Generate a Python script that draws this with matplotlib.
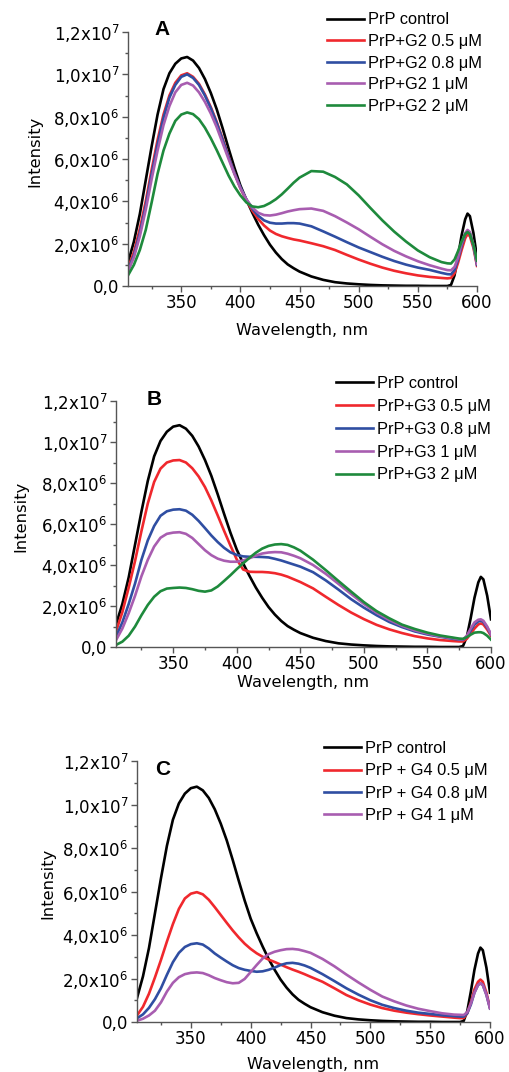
import numpy as np
import matplotlib
matplotlib.use('Agg')
import matplotlib.pyplot as plt
from matplotlib.ticker import MultipleLocator, FuncFormatter

plt.rcParams['font.family'] = ['DejaVu Sans']
plt.rcParams['mathtext.fontset'] = 'dejavusans'
plt.rcParams['mathtext.default'] = 'regular'

# wavelength grid (nm)
wl = [305, 310, 315, 320, 325, 330, 335, 340, 345, 350, 355, 360, 365, 370, 375,
      380, 385, 390, 395, 400, 405, 410, 415, 420, 425, 430, 435, 440, 445, 450,
      460, 470, 480, 490, 500, 510, 520, 530, 540, 550, 560, 570,
      575, 578, 581, 584, 587, 590, 592, 594, 597, 600]

# intensities in units of 1e6
control = [1.1, 2.1, 3.4, 5.0, 6.6, 8.1, 9.3, 10.05, 10.5, 10.75, 10.82, 10.65, 10.3, 9.78, 9.12,
           8.35, 7.45, 6.5, 5.58, 4.75, 4.08, 3.47, 2.9, 2.4, 1.95, 1.58, 1.27, 1.02, 0.84, 0.68,
           0.45, 0.29, 0.18, 0.12, 0.08, 0.05, 0.03, 0.02, 0.01, 0.01, 0.0, 0.0,
           0.0, 0.05, 0.5, 1.4, 2.4, 3.15, 3.42, 3.3, 2.5, 1.35]

# panel A - G2
g2_05 = [0.85, 1.6, 2.7, 4.0, 5.5, 6.9, 8.1, 9.0, 9.6, 9.95, 10.05, 9.88, 9.55, 9.05, 8.45,
         7.75, 6.95, 6.12, 5.33, 4.62, 4.05, 3.57, 3.17, 2.86, 2.62, 2.46, 2.35, 2.27, 2.2, 2.15,
         2.02, 1.88, 1.7, 1.47, 1.25, 1.05, 0.87, 0.72, 0.6, 0.5, 0.43, 0.38,
         0.36, 0.38, 0.6, 1.1, 1.7, 2.25, 2.45, 2.35, 1.8, 0.95]
g2_08 = [0.75, 1.45, 2.5, 3.8, 5.3, 6.7, 7.95, 8.9, 9.5, 9.88, 10.0, 9.83, 9.5, 9.0, 8.4,
         7.7, 6.9, 6.1, 5.33, 4.67, 4.1, 3.66, 3.32, 3.1, 2.99, 2.95, 2.95, 2.97, 2.97, 2.95,
         2.82, 2.58, 2.33, 2.07, 1.82, 1.6, 1.38, 1.18, 1.01, 0.87, 0.76, 0.62,
         0.56, 0.55, 0.75, 1.25, 1.9, 2.45, 2.6, 2.5, 1.9, 1.0]
g2_1 = [0.7, 1.35, 2.35, 3.6, 5.05, 6.4, 7.6, 8.5, 9.15, 9.5, 9.6, 9.47, 9.15, 8.7, 8.15,
        7.5, 6.75, 6.0, 5.28, 4.62, 4.1, 3.71, 3.46, 3.35, 3.33, 3.37, 3.44, 3.52, 3.58, 3.63,
        3.66, 3.55, 3.3, 3.0, 2.68, 2.32, 1.97, 1.66, 1.4, 1.17, 0.98, 0.82,
        0.75, 0.74, 0.9, 1.35, 2.0, 2.5, 2.65, 2.55, 1.95, 1.05]
g2_2 = [0.5, 1.0, 1.7, 2.65, 3.95, 5.3, 6.4, 7.2, 7.8, 8.1, 8.2, 8.12, 7.88, 7.48, 6.98,
        6.42, 5.82, 5.22, 4.7, 4.28, 3.95, 3.76, 3.72, 3.78, 3.92, 4.1, 4.33, 4.6, 4.88, 5.12,
        5.43, 5.4, 5.15, 4.8, 4.28, 3.68, 3.1, 2.57, 2.1, 1.68, 1.36, 1.13,
        1.07, 1.06, 1.25, 1.65, 2.1, 2.45, 2.55, 2.45, 1.95, 1.2]

# panel B - G3
g3_05 = [0.75, 1.7, 2.9, 4.2, 5.65, 7.0, 8.05, 8.7, 9.0, 9.1, 9.12, 9.0, 8.72, 8.32, 7.8,
         7.15, 6.42, 5.67, 4.95, 4.27, 3.78, 3.67, 3.66, 3.66, 3.64, 3.6, 3.53, 3.43, 3.3, 3.17,
         2.86, 2.45, 2.05, 1.68, 1.36, 1.08, 0.86, 0.68, 0.53, 0.42, 0.34, 0.29,
         0.27, 0.27, 0.4, 0.65, 0.9, 1.1, 1.15, 1.1, 0.85, 0.55]
g3_08 = [0.5, 1.2, 2.1, 3.1, 4.25, 5.2, 5.9, 6.4, 6.62, 6.7, 6.72, 6.65, 6.45, 6.15, 5.8,
         5.44, 5.12, 4.84, 4.62, 4.49, 4.42, 4.4, 4.4, 4.39, 4.37, 4.3, 4.22, 4.12, 4.02, 3.92,
         3.65, 3.25, 2.8, 2.33, 1.92, 1.55, 1.22, 0.97, 0.76, 0.61, 0.5, 0.4,
         0.36, 0.35, 0.5, 0.8, 1.1, 1.25, 1.28, 1.22, 0.95, 0.6]
g3_1 = [0.33, 0.9, 1.65, 2.5, 3.45, 4.25, 4.9, 5.33, 5.52, 5.58, 5.6, 5.52, 5.32, 5.02, 4.72,
        4.48, 4.31, 4.21, 4.16, 4.16, 4.22, 4.33, 4.46, 4.56, 4.61, 4.63, 4.62, 4.55, 4.45, 4.33,
        4.0, 3.57, 3.08, 2.58, 2.1, 1.67, 1.32, 1.03, 0.81, 0.65, 0.52, 0.43,
        0.38, 0.37, 0.55, 0.9, 1.2, 1.33, 1.35, 1.28, 1.0, 0.62]
g3_2 = [0.1, 0.26, 0.55, 1.0, 1.55, 2.05, 2.45, 2.72, 2.85, 2.88, 2.9, 2.88, 2.82, 2.74, 2.7,
        2.76, 2.95, 3.22, 3.5, 3.8, 4.08, 4.35, 4.6, 4.8, 4.93, 5.0, 5.02, 4.98, 4.86, 4.7,
        4.26, 3.75, 3.22, 2.7, 2.19, 1.75, 1.4, 1.09, 0.88, 0.7, 0.56, 0.46,
        0.41, 0.4, 0.48, 0.6, 0.7, 0.72, 0.72, 0.68, 0.55, 0.36]

# panel C - G4
g4_05 = [0.3, 0.7, 1.3, 2.05, 2.85, 3.7, 4.5, 5.2, 5.68, 5.9, 5.97, 5.87, 5.62, 5.28, 4.92,
         4.56, 4.21, 3.89, 3.6, 3.36, 3.16, 3.0, 2.87, 2.76, 2.64, 2.52, 2.41, 2.31, 2.2, 2.08,
         1.85, 1.55, 1.24, 1.0, 0.8, 0.64, 0.52, 0.43, 0.36, 0.3, 0.25, 0.2,
         0.18, 0.18, 0.4, 0.9, 1.5, 1.85, 1.95, 1.85, 1.35, 0.65]
g4_08 = [0.17, 0.35, 0.65, 1.05, 1.55, 2.17, 2.75, 3.18, 3.45, 3.58, 3.62, 3.56, 3.38, 3.15, 2.96,
         2.78, 2.61, 2.48, 2.4, 2.35, 2.31, 2.33, 2.4, 2.5, 2.62, 2.7, 2.72, 2.68, 2.6, 2.49,
         2.2, 1.88, 1.55, 1.26, 1.0, 0.79, 0.64, 0.52, 0.43, 0.37, 0.31, 0.27,
         0.25, 0.25, 0.4, 0.8, 1.35, 1.7, 1.78, 1.7, 1.25, 0.62]
g4_1 = [0.06, 0.15, 0.3, 0.52, 0.9, 1.4, 1.8, 2.06, 2.2, 2.26, 2.28, 2.25, 2.15, 2.02, 1.92,
        1.83, 1.78, 1.8, 1.98, 2.3, 2.62, 2.92, 3.12, 3.23, 3.3, 3.35, 3.36, 3.33, 3.26, 3.18,
        2.9, 2.56, 2.18, 1.82, 1.48, 1.17, 0.95, 0.76, 0.61, 0.5, 0.4, 0.34,
        0.33, 0.32, 0.45, 0.85, 1.35, 1.7, 1.78, 1.7, 1.25, 0.63]

colors = ['black', '#f0282d', '#2f4ea2', '#a85db0', '#1e8a3c']


def sci_label(v, pos):
    if abs(v) < 1:
        return '0,0'
    if v < 0:
        return ''
    exp = int(np.floor(np.log10(v) + 1e-9))
    mant = v / 10 ** exp
    return ('%.1f' % mant).replace('.', ',') + 'x10$^{%d}$' % exp


def style_axes(ax, ylab_x, xlab_y):
    ax.set_xlim(305, 600)
    ax.set_ylim(0, 1.2e7)
    ax.spines['top'].set_visible(False)
    ax.spines['right'].set_visible(False)
    for s in ['left', 'bottom']:
        ax.spines[s].set_color('#555555')
        ax.spines[s].set_linewidth(1.0)
    ax.xaxis.set_major_locator(MultipleLocator(50))
    ax.xaxis.set_minor_locator(MultipleLocator(25))
    ax.yaxis.set_major_locator(MultipleLocator(2e6))
    ax.yaxis.set_minor_locator(MultipleLocator(1e6))
    ax.yaxis.set_major_formatter(FuncFormatter(sci_label))
    ax.tick_params(which='major', direction='out', length=4, width=1, color='#555555',
                   labelsize=12, pad=2)
    ax.tick_params(which='minor', direction='out', length=2.5, width=1, color='#555555')
    ax.set_ylabel('Intensity', fontsize=11.8)
    ax.set_xlabel('Wavelength, nm', fontsize=11.6)
    ax.yaxis.set_label_coords(ylab_x, 0.53)
    ax.xaxis.set_label_coords(0.5, xlab_y)


fig = plt.figure(figsize=(5.09, 10.72), dpi=100)
W, H = 509, 1072

panels = [
    dict(box=(128, 477, 32, 286), letter='A', lpos=(0.075, 0.99),
         series=[control, g2_05, g2_08, g2_1, g2_2],
         labels=['PrP control', 'PrP+G2 0.5 μM', 'PrP+G2 0.8 μM', 'PrP+G2 1 μM', 'PrP+G2 2 μM'],
         leg=(327, 12.5), spacing=0.40, ylab=-0.244, xlab=-0.146),
    dict(box=(116, 491, 401, 647), letter='B', lpos=(0.083, 0.985),
         series=[control, g3_05, g3_08, g3_1, g3_2],
         labels=['PrP control', 'PrP+G3 0.5 μM', 'PrP+G3 0.8 μM', 'PrP+G3 1 μM', 'PrP+G3 2 μM'],
         leg=(336, 376), spacing=0.48, ylab=-0.235, xlab=-0.112),
    dict(box=(137, 490, 761, 1022), letter='C', lpos=(0.051, 0.946),
         series=[control, g4_05, g4_08, g4_1],
         labels=['PrP control', 'PrP + G4 0.5 μM', 'PrP + G4 0.8 μM', 'PrP + G4 1 μM'],
         leg=(324, 741), spacing=0.445, ylab=-0.232, xlab=-0.133),
]

for p in panels:
    x0, x1, y0, y1 = p['box']
    ax = fig.add_axes([x0 / W, 1 - y1 / H, (x1 - x0) / W, (y1 - y0) / H])
    for vals, lab, c in zip(p['series'], p['labels'], colors):
        ax.plot(wl, np.array(vals) * 1e6, color=c, lw=1.9, label=lab)
    style_axes(ax, p['ylab'], p['xlab'])
    ax.text(p['lpos'][0], p['lpos'][1], p['letter'], transform=ax.transAxes,
            fontsize=15, fontweight='bold', family='Liberation Sans',
            va='baseline', ha='left')
    ax.legend(loc='upper left', bbox_to_anchor=(p['leg'][0] / W, 1 - p['leg'][1] / H),
              bbox_transform=fig.transFigure, frameon=False,
              prop={'family': 'Liberation Sans', 'size': 11.8},
              handlelength=2.26, handletextpad=0.24, labelspacing=p['spacing'],
              borderpad=0, borderaxespad=0)

fig.savefig('out.png', dpi=100)
